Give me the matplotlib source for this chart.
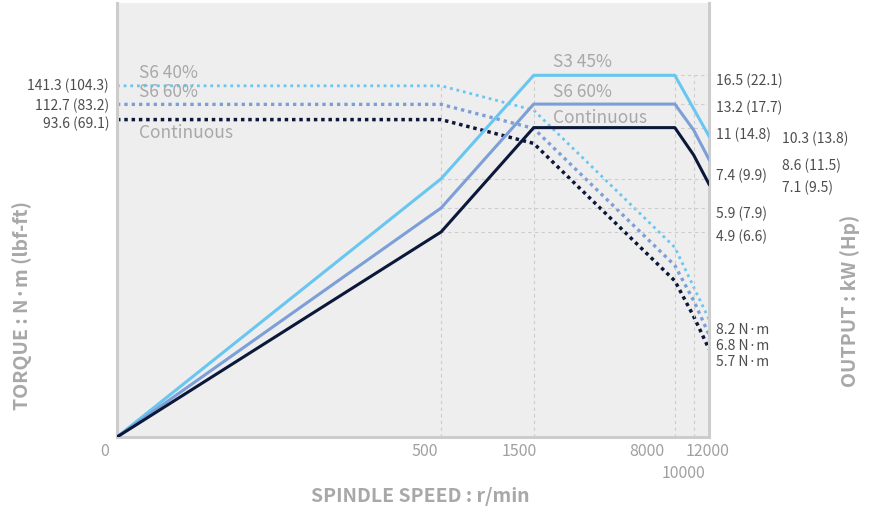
import numpy as np
import matplotlib.pyplot as plt
from matplotlib.transforms import blended_transform_factory

plt.rcParams['font.family'] = ['Noto Sans CJK JP', 'DejaVu Sans']

# spindle speed (r/min)
speed = [0, 500, 1500, 8000, 10000, 12000]
speed_s3 = [0, 500, 1500, 8000, 12000]

# output (kW)
power_s3 = [0, 7.4, 16.5, 16.5, 10.3]
power_s6 = [0, 5.9, 13.2, 13.2, 10.8, 8.6]
power_cont = [0, 4.9, 11, 11, 8.9, 7.1]

# torque (N·m)
torque_s6_40 = [141.3, 141.3, 105.0, 19.7, 8.2]
torque_s6_60 = [112.7, 112.7, 84.0, 15.8, 10.3, 6.8]
torque_cont = [93.6, 93.6, 70.0, 13.1, 8.5, 5.7]

torque_ticks = [141.3, 112.7, 93.6]
torque_labels = ['141.3 (104.3)', '112.7 (83.2)', '93.6 (69.1)']
power_ticks = [16.5, 13.2, 11, 7.4, 5.9, 4.9]
power_labels = ['16.5 (22.1)', '13.2 (17.7)', '11 (14.8)', '7.4 (9.9)', '5.9 (7.9)', '4.9 (6.6)']
end_power = [10.3, 8.6, 7.1]
end_power_labels = ['10.3 (13.8)', '8.6 (11.5)', '7.1 (9.5)']
end_torque = [8.2, 6.8, 5.7]
end_torque_labels = ['8.2 N·m', '6.8 N·m', '5.7 N·m']
speed_ticks = [0, 500, 1500, 8000, 10000, 12000]
speed_labels = ['0', '500', '1500', '8000', '10000', '12000']

c_light = '#69c6f1'
c_mid = '#7d9fd7'
c_dark = '#0b1839'
c_text = '#a8a8a8'
c_tick = '#4d4d4d'
c_grid = '#cccccc'

# schematic log-log axes, the origin is pinned to the corner
fx = (lambda v: np.log(np.maximum(v, 10.7)), np.exp)
fp = (lambda v: np.log(np.maximum(v, 1.0)), np.exp)
ft = (lambda v: np.log(np.maximum(v, 1.95)), np.exp)

fig = plt.figure(figsize=(8.74, 5.13), dpi=100)
ax = fig.add_axes([117 / 874, 76 / 513, 592 / 874, 434 / 513])
ax.set_xscale('function', functions=fx)
ax.set_yscale('function', functions=ft)
ax.set_xlim(0, 12000)
ax.set_ylim(1.95, 388)
ax.set_facecolor('#eeeeee')

ax2 = ax.twinx()
ax2.set_yscale('function', functions=fp)
ax2.set_ylim(0, 28.9)
ax2.set_xlim(0, 12000)

for a in (ax, ax2):
    a.set_xticks([])
    a.set_yticks([])
    a.minorticks_off()
    for s in a.spines.values():
        s.set_visible(False)
for side in ('left', 'right', 'bottom'):
    ax.spines[side].set_visible(True)
    ax.spines[side].set_color('#cccccc')
    ax.spines[side].set_linewidth(2.2)

# guide lines
gkw = dict(color=c_grid, lw=0.8, ls=(0, (3, 3)), zorder=0)
ax.plot([500, 500], [1.95, torque_s6_40[1]], **gkw)
for s in [1500, 8000, 10000]:
    ax2.plot([s, s], [0, power_s3[2]], **gkw)
for p in power_ticks[:3]:
    ax2.plot([1500, 12000], [p, p], **gkw)
for p in power_ticks[3:]:
    ax2.plot([500, 12000], [p, p], **gkw)

# torque (dotted)
ax.plot(speed_s3, torque_s6_40, color=c_light, lw=2.0, ls=(0, (1, 1.4)), zorder=2)
ax.plot(speed, torque_s6_60, color=c_mid, lw=2.4, ls=(0, (1, 1.2)), zorder=2)
ax.plot(speed, torque_cont, color=c_dark, lw=2.5, ls=(0, (1, 1.1)), zorder=2)

# output (solid)
ax2.plot(speed_s3, power_s3, color=c_light, lw=2.2, zorder=3)
ax2.plot(speed, power_s6, color=c_mid, lw=2.2, zorder=3)
ax2.plot(speed, power_cont, color=c_dark, lw=2.2, zorder=3)

# series names
nkw = dict(textcoords='offset pixels', color=c_text, fontsize=12.5, va='center', ha='left')
ax.annotate('S6 40%', (0, torque_s6_40[0]), xytext=(22, 13), **nkw)
ax.annotate('S6 60%', (0, torque_s6_60[0]), xytext=(22, 12), **nkw)
ax.annotate('Continuous', (0, torque_cont[0]), xytext=(22, -13), **nkw)
ax2.annotate('S3 45%', (1500, power_s3[2]), xytext=(19, 13), **nkw)
ax2.annotate('S6 60%', (1500, power_s6[2]), xytext=(19, 12), **nkw)
ax2.annotate('Continuous', (1500, power_cont[2]), xytext=(19, 10), **nkw)

# value labels
lkw = dict(textcoords='offset pixels', color=c_tick, fontsize=10, va='center',
           annotation_clip=False)
tl_dy = [0, -2, -4]
for t, lab, dy in zip(torque_ticks, torque_labels, tl_dy):
    ax.annotate(lab, (0, t), xytext=(-8, dy), ha='right', **lkw)
pl_dy = [-6, -4, -7, 3, -6, -5]
for p, lab, dy in zip(power_ticks, power_labels, pl_dy):
    ax2.annotate(lab, (12000, p), xytext=(7, dy), ha='left', **lkw)
ep_dy = [-3, -7, -4]
for p, lab, dy in zip(end_power, end_power_labels, ep_dy):
    ax2.annotate(lab, (12000, p), xytext=(73, dy), ha='left', **lkw)
et_dy = [-11, -11, -13]
for t, lab, dy in zip(end_torque, end_torque_labels, et_dy):
    ax.annotate(lab, (12000, t), xytext=(7, dy), ha='left', **lkw)

# speed labels
tr = blended_transform_factory(ax.transData, ax.transAxes)
sx = [-12, -16, -14, -28, -10, -1]
sy = [-15, -15, -15, -15, -36, -15]
for s, lab, dx, dy in zip(speed_ticks, speed_labels, sx, sy):
    ax.annotate(lab, (s, 0), xycoords=tr, xytext=(dx, dy), textcoords='offset pixels',
                color='#a0a0a0', fontsize=11.5, ha='center', va='center', annotation_clip=False)

akw = dict(color=c_text, fontsize=14, fontweight='bold', ha='center', va='center')
fig.text(22 / 874, 1 - 306 / 513, 'TORQUE : N·m (lbf-ft)', rotation=90, **akw)
fig.text(850 / 874, 1 - 301 / 513, 'OUTPUT : kW (Hp)', rotation=90, **akw)
fig.text(420 / 874, 1 - 497 / 513, 'SPINDLE SPEED : r/min', **akw)

fig.savefig('out.png', dpi=100)
